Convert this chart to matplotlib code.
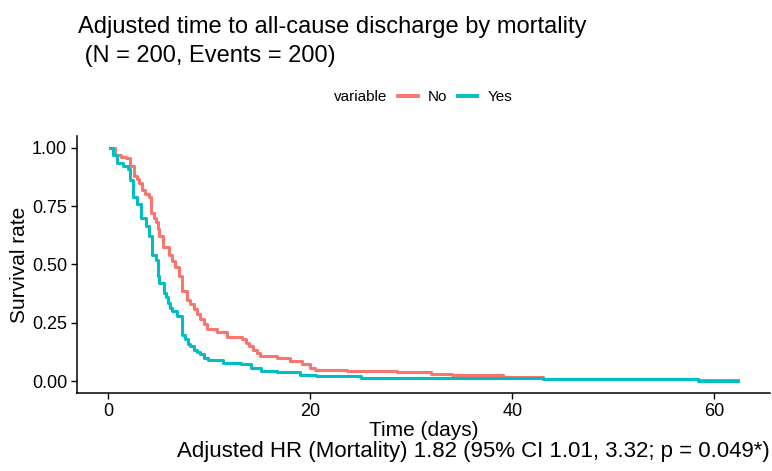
import matplotlib
matplotlib.use("Agg")
import matplotlib.pyplot as plt
from matplotlib.lines import Line2D

plt.rcParams['font.family'] = ['Liberation Sans', 'DejaVu Sans']

# Kaplan-Meier style step points (time in days, survival rate)
time_no = [0.2, 0.7, 1.3, 1.8, 2.2, 2.5, 2.8, 3.0, 3.3, 3.6, 4.0, 4.2, 4.5, 4.7, 4.9, 5.0,
           5.4, 6.0, 6.3, 6.6, 7.0, 7.3, 7.8, 8.1, 8.5, 8.8, 9.1, 9.5, 9.8, 10.8, 11.8,
           13.2, 13.6, 13.9, 14.3, 14.7, 15.0, 16.7, 18.0, 19.2, 20.0, 20.5, 23.6, 28.6,
           32.0, 34.0, 39.1, 43.1, 58.4, 62.4]
surv_no = [1.0, 0.97, 0.962, 0.955, 0.92, 0.88, 0.865, 0.85, 0.82, 0.80, 0.79, 0.72, 0.70,
           0.68, 0.65, 0.62, 0.575, 0.54, 0.515, 0.49, 0.45, 0.385, 0.35, 0.33, 0.31, 0.29,
           0.265, 0.245, 0.225, 0.21, 0.19, 0.18, 0.165, 0.15, 0.135, 0.12, 0.107, 0.10,
           0.086, 0.072, 0.058, 0.05, 0.044, 0.04, 0.03, 0.026, 0.02, 0.01, 0.005, 0.005]

time_yes = [0.2, 0.5, 0.9, 1.5, 2.0, 2.2, 2.4, 2.8, 3.2, 3.7, 4.0, 4.3, 4.7, 4.9, 5.0,
            5.5, 5.7, 5.9, 6.1, 6.3, 6.8, 7.3, 7.6, 7.9, 8.1, 8.5, 8.8, 9.1, 9.5, 9.9,
            11.4, 13.1, 14.1, 15.1, 16.7, 19.0, 20.6, 25.0, 43.1, 58.4, 62.4]
surv_yes = [1.0, 0.97, 0.935, 0.92, 0.91, 0.86, 0.79, 0.76, 0.70, 0.665, 0.62, 0.54, 0.52,
            0.45, 0.42, 0.38, 0.36, 0.335, 0.315, 0.30, 0.28, 0.20, 0.18, 0.16, 0.15, 0.135,
            0.125, 0.115, 0.10, 0.09, 0.077, 0.072, 0.058, 0.043, 0.039, 0.029, 0.022,
            0.016, 0.008, 0.003, 0.003]

groups = ['No', 'Yes']
colors = ['#F8766D', '#00BFC4']

title_lines = ['Adjusted time to all-cause discharge by mortality', ' (N = 200, Events = 200)']
caption = 'Adjusted HR (Mortality) 1.82 (95% CI 1.01, 3.32; p = 0.049*)'

fig = plt.figure(figsize=(7.72, 4.71), dpi=100)
ax = fig.add_axes([0.0997, 0.1656, 0.8973, 0.5457])

ax.plot(time_no, surv_no, drawstyle='steps-post', color=colors[0], lw=2.2)
ax.plot(time_yes, surv_yes, drawstyle='steps-post', color=colors[1], lw=2.2)

ax.set_xlim(-3.1, 65.5)
ax.set_ylim(-0.05, 1.05)
ax.set_xticks([0, 20, 40, 60])
ax.set_yticks([0, 0.25, 0.5, 0.75, 1.0])
ax.set_yticklabels(['0.00', '0.25', '0.50', '0.75', '1.00'])
ax.tick_params(labelsize=13, length=4, width=1, colors='black', pad=3)
for s in ['top', 'right']:
    ax.spines[s].set_visible(False)
for s in ['left', 'bottom']:
    ax.spines[s].set_linewidth(1.1)

ax.set_xlabel('Time (days)', fontsize=15, labelpad=1)
ax.set_ylabel('Survival rate', fontsize=15, labelpad=2)

# two-line title, one text per line
fig.text(0.101, 0.930, title_lines[0], fontsize=17, ha='left', va='baseline')
fig.text(0.101, 0.868, title_lines[1], fontsize=17, ha='left', va='baseline')
fig.text(0.997, 0.030, caption, fontsize=16, ha='right', va='baseline')

# legend: "variable" as a label with an empty handle, then the two groups
handles = [Line2D([], [], color='none')] + [Line2D([], [], color=c, lw=2.8) for c in colors]
fig.legend(handles, ['variable'] + groups, loc='center', bbox_to_anchor=(0.5285, 0.794),
           ncol=3, frameon=False, fontsize=11, handlelength=1.3, handletextpad=0.65,
           columnspacing=0.7, borderpad=0)

fig.savefig('out.png', dpi=100)
